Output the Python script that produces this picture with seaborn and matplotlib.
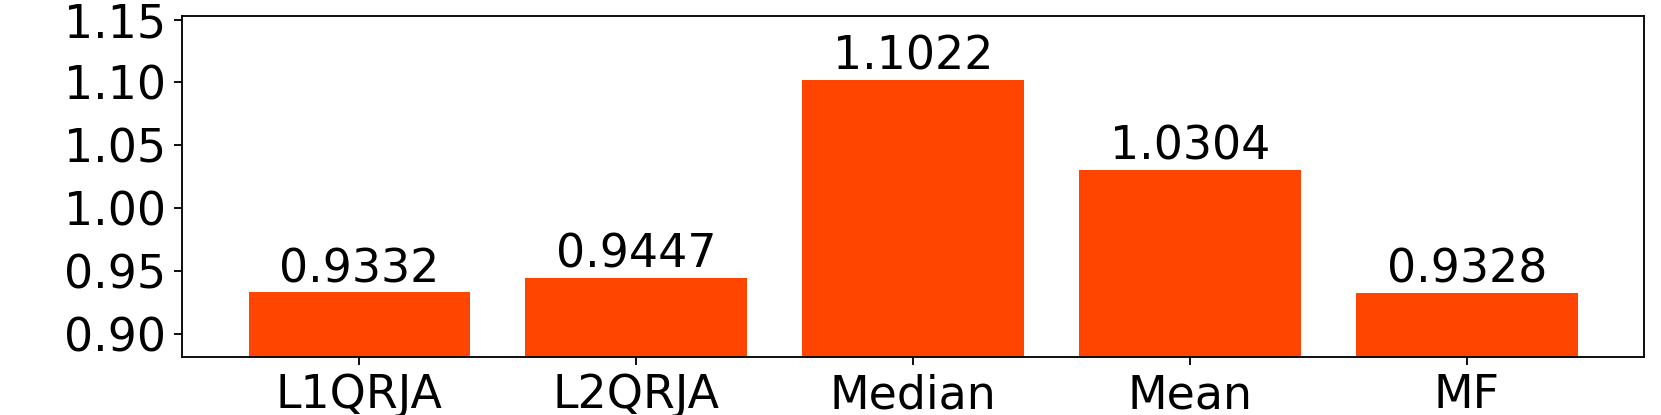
import matplotlib
matplotlib.use("Agg")
import matplotlib.pyplot as plt
import seaborn as sns
import pandas as pd

methods = ["L1QRJA", "L2QRJA", "Median", "Mean", "MF"]
values = [0.9332, 0.9447, 1.1022, 1.0304, 0.9328]
yticks = [0.90, 0.95, 1.00, 1.05, 1.10, 1.15]

plt.rcParams['font.family'] = ['DejaVu Sans']
df = pd.DataFrame({"method": methods, "value": values})

dpi = 165
fig = plt.figure(figsize=(1661 / dpi, 415 / dpi), dpi=dpi)
ax = fig.add_axes([0.1096, 0.1398, 0.9898 - 0.1096, 0.9614 - 0.1398])
sns.barplot(data=df, x="method", y="value", color="#FF4500", saturation=1,
            width=0.8, ax=ax, errorbar=None)
for i, v in enumerate(values):
    ax.text(i, v, f"{v:.4f}", ha="center", va="bottom", fontsize=20)

ax.set_ylim(0.8815, 1.1528)
ax.set_xlim(-0.64, len(methods) - 1 + 0.64)
ax.set_yticks(yticks)
ax.set_yticklabels([f"{t:.2f}" for t in yticks])
ax.set_xlabel("")
ax.set_ylabel("")
ax.tick_params(axis="both", labelsize=20)
for s in ax.spines.values():
    s.set_color("black")
fig.savefig("out.png", dpi=dpi)
